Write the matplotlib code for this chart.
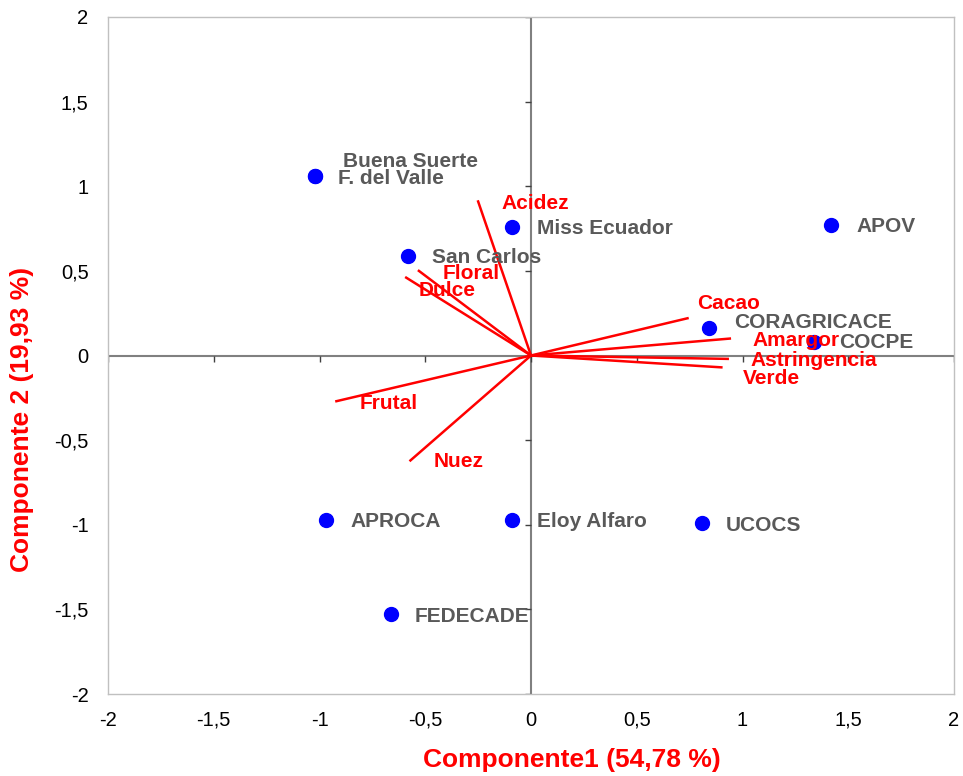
import numpy as np
import matplotlib.pyplot as plt

plt.rcParams['font.family'] = ['Liberation Sans', 'DejaVu Sans']

# muestras (puntuaciones)
samples = ['Buena Suerte', 'F. del Valle', 'Miss Ecuador', 'APOV', 'San Carlos',
           'CORAGRICACE', 'COCPE', 'APROCA', 'Eloy Alfaro', 'UCOCS', 'FEDECADE']
sx = [-1.02, -1.02, -0.09, 1.42, -0.58, 0.84, 1.34, -0.97, -0.09, 0.81, -0.66]
sy = [1.06, 1.06, 0.76, 0.77, 0.59, 0.16, 0.08, -0.97, -0.97, -0.99, -1.53]

# atributos (cargas)
attrs = ['Acidez', 'Floral', 'Dulce', 'Cacao', 'Amargor', 'Astringencia',
         'Verde', 'Frutal', 'Nuez']
vx = [-0.25, -0.53, -0.59, 0.74, 0.94, 0.93, 0.90, -0.92, -0.57]
vy = [0.91, 0.50, 0.46, 0.22, 0.10, -0.02, -0.07, -0.27, -0.62]

ticks = [-2, -1.5, -1, -0.5, 0, 0.5, 1, 1.5, 2]
tick_labels = ['-2', '-1,5', '-1', '-0,5', '0', '0,5', '1', '1,5', '2']

# label offsets in pixels
s_off = [(28, 15), (23, -2), (25, -2), (25, -1), (24, -2), (25, 6), (25, -1),
         (25, -2), (25, -2), (23, -2), (23, -2)]
v_off = [(23, -2), (24, -3), (12, -13), (10, 15), (23, -2), (23, -2),
         (22, -11), (23, -2), (23, -1)]

fig = plt.figure(figsize=(9.63, 7.76), dpi=100)
ax = fig.add_axes([108 / 963, 1 - 694 / 776, 846 / 963, 677 / 776])

ax.set_xlim(-2, 2)
ax.set_ylim(-2, 2)
for sp in ax.spines.values():
    sp.set_color('#c0c0c0')
    sp.set_linewidth(1)

ax.axhline(0, color='#808080', lw=1.5, zorder=1)
ax.axvline(0, color='#808080', lw=1.5, zorder=1)
zeros = np.zeros(len(ticks))
ax.plot(ticks, zeros, ls='none', marker=3, ms=4, mew=1, color='#404040', zorder=1)
ax.plot(zeros, ticks, ls='none', marker=0, ms=4, mew=1, color='#404040', zorder=1)

ax.set_xticks(ticks)
ax.set_xticklabels(tick_labels)
ax.set_yticks(ticks)
ax.set_yticklabels(tick_labels)
ax.tick_params(axis='x', length=0, pad=12, labelsize=14.5)
ax.tick_params(axis='y', length=0, pad=14, labelsize=14.5)

for x, y in zip(vx, vy):
    ax.plot([0, x], [0, y], color='red', lw=1.8, zorder=2)

ax.plot(sx, sy, 'o', color='blue', ms=10, zorder=3)

for name, x, y, off in zip(samples, sx, sy, s_off):
    ax.annotate(name, (x, y), xytext=off, textcoords='offset pixels',
                ha='left', va='center', fontsize=15, fontweight='bold',
                color='#595959', zorder=4)

for name, x, y, off in zip(attrs, vx, vy, v_off):
    ax.annotate(name, (x, y), xytext=off, textcoords='offset pixels',
                ha='left', va='center', fontsize=15, fontweight='bold',
                color='red', zorder=5)

ax.set_xlabel('Componente1 (54,78 %)', fontsize=19, fontweight='bold', color='red')
ax.set_ylabel('Componente 2 (19,93 %)', fontsize=19, fontweight='bold', color='red')
ax.xaxis.set_label_coords(0.548, -0.0975)
ax.xaxis.label.set_va('center')
ax.yaxis.set_label_coords(-0.102, 0.405)
ax.yaxis.label.set_va('center')

fig.savefig('out.png', dpi=100)
